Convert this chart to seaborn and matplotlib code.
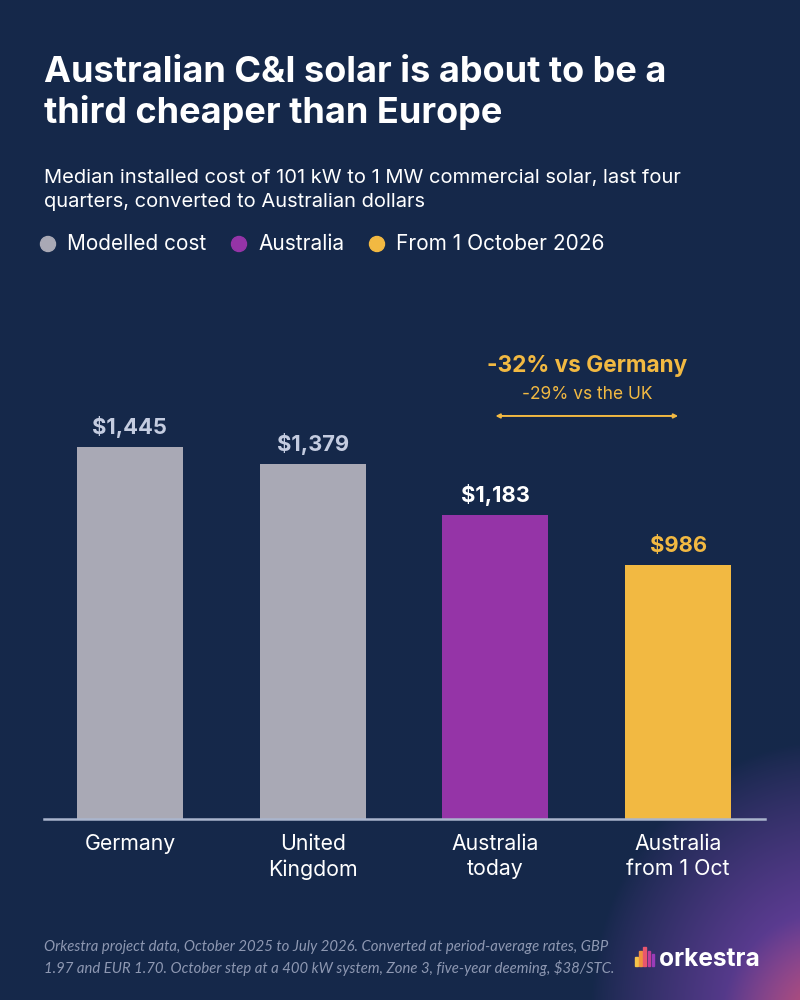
import numpy as np
import pandas as pd
import matplotlib
matplotlib.use("Agg")
import matplotlib.pyplot as plt
from matplotlib.patches import Rectangle, Ellipse
import seaborn as sns

# --- DANE --------------------------------------------------------------------

CATEGORIES = ["Germany", "United\nKingdom", "Australia\ntoday", "Australia\nfrom 1 Oct"]
COSTS      = [1445, 1379, 1183, 986]
LABELS     = ["$1,445", "$1,379", "$1,183", "$986"]
GROUPS     = ["Modelled cost", "Modelled cost", "Australia", "From 1 October 2026"]

# --- STYL --------------------------------------------------------------------

BG      = "#15284a"
GREY    = "#a9a9b5"
PURPLE  = "#9534a7"
YELLOW  = "#f2b942"
WHITE   = "#ffffff"
LBL_GREY = "#c4cce0"
FOOT    = "#8e98b2"
BAR_COLORS   = [GREY, GREY, PURPLE, YELLOW]
LABEL_COLORS = [LBL_GREY, LBL_GREY, WHITE, YELLOW]
FONT = "Inter"

sns.set_theme(style="white")
plt.rcParams["font.family"] = [FONT, "DejaVu Sans"]

W, H = 800, 1000
fig = plt.figure(figsize=(W / 100, H / 100), dpi=100)
fig.patch.set_facecolor(BG)


def fy(px):
    return 1 - px / H


def fx(px):
    return px / W


# --- TLO z poswiata w prawym dolnym rogu -------------------------------------
bg_ax = fig.add_axes([0, 0, 1, 1], zorder=-10)
yy, xx = np.mgrid[0:H:2, 0:W:2]
d = np.hypot((xx - 830) / 240.0, (yy - 1010) / 270.0)
w = np.clip(1 - d, 0, 1) ** 0.85
d2 = np.hypot((xx - 830) / 110.0, (yy - 1020) / 110.0)
w2 = np.clip(1 - d2, 0, 1) ** 1.1
navy = np.array([0x15, 0x28, 0x4a]) / 255
purp = np.array([0x7e, 0x45, 0xb4]) / 255
pink = np.array([0xc8, 0x52, 0x68]) / 255
img = navy * (1 - w[..., None]) + purp * w[..., None]
img = img * (1 - w2[..., None]) + pink * w2[..., None]
bg_ax.imshow(img, extent=[0, W, H, 0], aspect="auto", interpolation="bilinear")
bg_ax.set_xlim(0, W)
bg_ax.set_ylim(H, 0)
bg_ax.axis("off")

# --- WYKRES ------------------------------------------------------------------
ax = fig.add_axes([fx(44), 1 - 819 / H, fx(721), 489 / H])
ax.set_facecolor("none")

df = pd.DataFrame({"category": CATEGORIES, "cost": COSTS, "group": GROUPS})
sns.barplot(data=df, x="category", y="cost", hue="category",
            palette=BAR_COLORS, width=0.58, legend=False, ax=ax,
            saturation=1, edgecolor="none")

for i, (v, lab) in enumerate(zip(COSTS, LABELS)):
    ax.text(i, v + 50, lab, ha="center", va="baseline", fontsize=15.8,
            fontweight="bold", color=LABEL_COLORS[i])

ax.set_xlim(-0.47, 3.475)
ax.set_ylim(0, 1900)
ax.set_xlabel("")
ax.set_ylabel("")
ax.set_yticks([])
for s in ["top", "right", "left"]:
    ax.spines[s].set_visible(False)
ax.spines["bottom"].set_color("#aab5cd")
ax.spines["bottom"].set_linewidth(1.8)
ax.tick_params(axis="x", length=0, pad=11, labelsize=15.3, labelcolor=WHITE)
for t in ax.get_xticklabels():
    t.set_linespacing(1.3)

# adnotacja ze strzalka
ax.annotate("", xy=(2.0, 1566), xytext=(3.0, 1566),
            arrowprops=dict(arrowstyle="<|-|>", color=YELLOW, lw=1.4,
                            mutation_scale=6, shrinkA=0, shrinkB=0))
ax.text(2.5, 1737, "-32% vs Germany", ha="center", va="baseline",
        fontsize=16.3, fontweight="bold", color=YELLOW)
ax.text(2.5, 1632, "-29% vs the UK", ha="center", va="baseline",
        fontsize=12.5, color=YELLOW)

# --- TEKSTY ------------------------------------------------------------------
fig.text(fx(44), fy(82), "Australian C&I solar is about to be a",
         fontsize=26, fontweight="bold", color=WHITE, va="baseline")
fig.text(fx(44), fy(123), "third cheaper than Europe",
         fontsize=26, fontweight="bold", color=WHITE, va="baseline")
fig.text(fx(44), fy(183),
         "Median installed cost of 101 kW to 1 MW commercial solar, last four",
         fontsize=14.5, color=WHITE, va="baseline")
fig.text(fx(44), fy(207), "quarters, converted to Australian dollars",
         fontsize=14.5, color=WHITE, va="baseline")

legend_items = [("Modelled cost", GREY, 48), ("Australia", PURPLE, 239),
                ("From 1 October 2026", YELLOW, 377)]
for name, col, x0 in legend_items:
    fig.patches.append(Ellipse((fx(x0), fy(244)), 15 / W, 15 / H, color=col,
                               transform=fig.transFigure, figure=fig))
    fig.text(fx(x0 + 19), fy(250), name, fontsize=15, color=WHITE,
             va="baseline")

fig.text(fx(44), fy(951),
         "Orkestra project data, October 2025 to July 2026. Converted at period-average rates, GBP",
         fontsize=10.7, style="italic", color=FOOT, va="baseline", family="Lato")
fig.text(fx(44), fy(973),
         "1.97 and EUR 1.70. October step at a 400 kW system, Zone 3, five-year deeming, $38/STC.",
         fontsize=10.7, style="italic", color=FOOT, va="baseline", family="Lato")

# logo
icon_cols = ["#f4c34a", "#f0923e", "#e8566e", "#c23c9a", "#9a3cb8"]
icon_h = [9, 15, 19, 15, 12]
for k, (c, h) in enumerate(zip(icon_cols, icon_h)):
    fig.patches.append(Rectangle((fx(635 + k * 4.2), fy(966)), 2.6 / W, h / H,
                                 color=c, transform=fig.transFigure, figure=fig))
fig.text(fx(659), fy(966), "orkestra", fontsize=17.7, fontweight="bold",
         color=WHITE, va="baseline")

fig.savefig("out.png", dpi=100, facecolor=BG)
